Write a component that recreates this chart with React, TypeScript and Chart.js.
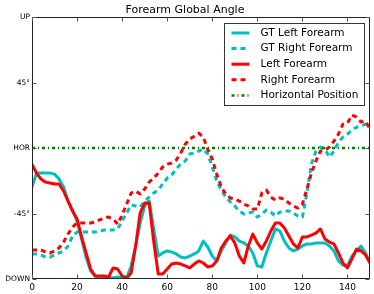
import React, { useEffect, useRef } from 'react';
import { Chart, registerables } from 'chart.js';

Chart.register(...registerables);

const chartTitle = 'Forearm Global Angle';
const seriesNames = ['GT Left Forearm', 'GT Right Forearm', 'Left Forearm', 'Right Forearm', 'Horizontal Position'];

const frames = [
  0, 2, 4, 6, 8, 10, 12, 14, 16, 18,
  20, 22, 24, 26, 28, 30, 32, 34, 36, 38,
  40, 42, 44, 46, 48, 50, 52, 54, 56, 58,
  60, 62, 64, 66, 68, 70, 72, 74, 76, 78,
  80, 82, 84, 86, 88, 90, 92, 94, 96, 98,
  100, 102, 104, 106, 108, 110, 112, 114, 116, 118,
  120, 122, 124, 126, 128, 130, 132, 134, 136, 138,
  140, 142, 144, 146, 148, 150,
];

const gtLeft = [
  -26.8, -17.2, -17.2, -17.2, -17.2, -17.9, -21.3, -26.8, -36.4, -42.6,
  -50.1, -62.5, -74.9, -84.5, -87.9, -88.6, -89.3, -88.6, -89.3, -88.6,
  -89.3, -89.3, -81.0, -67.3, -51.5, -39.8, -36.4, -55.6, -74.2, -72.1,
  -70.7, -71.4, -72.8, -74.9, -75.5, -74.2, -72.8, -70.7, -63.9, -68.0,
  -74.2, -77.6, -70.7, -65.2, -59.8, -61.1, -63.9, -65.2, -67.3, -72.1,
  -81.0, -81.7, -72.1, -63.9, -55.6, -57.0, -63.9, -68.7, -70.7, -69.4,
  -67.3, -65.9, -65.9, -65.2, -65.2, -65.2, -67.3, -70.7, -77.6, -80.4,
  -81.0, -74.2, -70.7, -67.3, -72.1, -79.0,
];

const gtRight = [
  -72.8, -72.8, -73.5, -74.9, -74.9, -73.5, -72.1, -70.7, -67.3, -60.4,
  -57.7, -57.7, -57.7, -57.7, -57.7, -57.0, -56.3, -56.3, -56.3, -55.6,
  -50.1, -44.6, -39.1, -39.8, -40.5, -36.4, -33.7, -30.9, -28.8, -24.7,
  -20.6, -18.5, -14.4, -11.0, -8.9, -4.1, -3.4, -2.1, -0.7, -4.1,
  -13.0, -22.7, -28.8, -33.7, -37.1, -39.8, -43.3, -45.3, -44.6, -44.0,
  -47.4, -45.3, -42.6, -44.0, -46.7, -44.0, -43.3, -43.3, -44.6, -46.7,
  -47.4, -30.9, -11.0, -2.1, 0.7, -0.7, -6.2, -2.1, 4.1, 7.6,
  9.6, 12.4, 14.4, 15.1, 16.5, 17.2,
];

const predLeft = [
  -11.0, -17.2, -21.3, -23.4, -24.0, -24.7, -24.7, -29.5, -36.4, -43.3,
  -48.8, -61.1, -72.1, -83.1, -87.9, -87.9, -87.9, -88.6, -82.4, -83.1,
  -87.9, -89.3, -85.9, -67.3, -44.6, -37.8, -37.8, -63.9, -86.5, -86.5,
  -83.1, -79.7, -79.0, -79.7, -81.0, -82.4, -79.7, -77.6, -79.0, -81.7,
  -81.0, -77.6, -68.7, -63.9, -60.4, -65.2, -74.2, -79.0, -67.3, -59.1,
  -65.2, -69.4, -63.9, -57.0, -51.5, -51.5, -54.9, -60.4, -65.9, -68.7,
  -61.1, -61.1, -59.8, -58.4, -55.6, -62.5, -64.6, -65.9, -72.1, -79.0,
  -82.4, -76.2, -69.4, -70.7, -73.5, -79.0,
];

const predRight = [
  -70.1, -70.1, -70.1, -71.4, -72.1, -70.7, -68.7, -64.6, -59.1, -54.3,
  -51.5, -51.5, -51.5, -51.5, -50.8, -49.4, -48.1, -47.4, -48.8, -52.2,
  -46.0, -38.5, -30.9, -29.5, -31.6, -28.2, -23.4, -20.6, -17.2, -13.0,
  -11.0, -10.3, -8.2, -3.4, 2.7, 6.2, 8.2, 10.3, 7.6, -0.7,
  -7.6, -17.9, -26.8, -31.6, -34.3, -35.0, -36.4, -38.5, -39.8, -41.9,
  -41.9, -30.9, -28.8, -33.7, -35.7, -34.3, -35.0, -37.8, -39.8, -41.2,
  -38.5, -28.2, -17.2, -8.9, -2.1, -1.4, 0.7, 4.8, 9.6, 16.5,
  17.2, 22.7, 21.3, 17.9, 18.5, 13.0,
];

const horizontalX = [0, 150];
const horizontalY = [0, 0];

const yTickValues = [-90, -45, 0, 45, 90];
const yTickLabels = ['DOWN', '-45°', 'HOR', '45°', 'UP'];
const xTickStep = 20;
const xMin = 0;
const xMax = 150;

const FONT = '"DejaVu Sans", sans-serif';

const toPoints = (xs: number[], ys: number[]) => xs.map((x, i) => ({ x, y: ys[i] }));

const framePlugin = {
  id: 'frameAndTicks',
  afterDatasetsDraw(chart: any) {
    const { ctx, chartArea } = chart;
    const { left, right, top, bottom } = chartArea;
    ctx.save();
    ctx.strokeStyle = '#222';
    ctx.lineWidth = 1;
    ctx.setLineDash([]);
    const L = Math.round(left) + 0.5;
    const R = Math.round(right) - 0.5;
    const T = Math.round(top) + 0.5;
    const B = Math.round(bottom) - 0.5;
    ctx.beginPath();
    ctx.rect(L, T, R - L, B - T);
    ctx.stroke();
    ctx.strokeStyle = '#555';
    const xs = chart.scales.x;
    xs.ticks.forEach((t: any) => {
      const px = Math.round(xs.getPixelForValue(t.value)) + 0.5;
      ctx.beginPath();
      ctx.moveTo(px, B);
      ctx.lineTo(px, B - 4);
      ctx.moveTo(px, T);
      ctx.lineTo(px, T + 4);
      ctx.stroke();
    });
    const ys = chart.scales.y;
    ys.ticks.forEach((t: any) => {
      const py = Math.round(ys.getPixelForValue(t.value)) + 0.5;
      ctx.beginPath();
      ctx.moveTo(L, py);
      ctx.lineTo(L + 4, py);
      ctx.moveTo(R, py);
      ctx.lineTo(R - 4, py);
      ctx.stroke();
    });
    ctx.restore();
  },
  afterDraw(chart: any) {
    const { ctx, chartArea } = chart;
    const boxW = 140;
    const boxH = 82;
    const bx = Math.round(chartArea.right - 6 - boxW) + 0.5;
    const by = Math.round(chartArea.top + 6) + 0.5;
    ctx.save();
    ctx.fillStyle = '#ffffff';
    ctx.fillRect(bx, by, boxW, boxH);
    ctx.strokeStyle = '#333';
    ctx.lineWidth = 1;
    ctx.setLineDash([]);
    ctx.strokeRect(bx, by, boxW, boxH);
    const rowH = 15.6;
    chart.data.datasets.forEach((ds: any, i: number) => {
      const cy = by + 9.5 + i * rowH;
      ctx.beginPath();
      ctx.strokeStyle = ds.borderColor;
      ctx.lineWidth = ds.borderWidth;
      ctx.setLineDash(ds.borderDash || []);
      ctx.lineCap = 'butt';
      ctx.moveTo(bx + 7, cy);
      ctx.lineTo(bx + 25, cy);
      ctx.stroke();
      ctx.setLineDash([]);
      ctx.fillStyle = '#000';
      ctx.font = `10.5px ${FONT}`;
      ctx.textBaseline = 'middle';
      ctx.textAlign = 'left';
      ctx.fillText(ds.label, bx + 36, cy);
    });
    ctx.restore();
  },
};

export default function App() {
  const canvasRef = useRef<HTMLCanvasElement | null>(null);

  useEffect(() => {
    document.body.style.margin = '0';
    const canvas = canvasRef.current;
    if (!canvas) return;
    const cyan = 'rgb(0, 191, 191)';
    const red = 'rgb(255, 0, 0)';
    const green = 'rgb(0, 128, 0)';
    const chart = new Chart(canvas, {
      type: 'line',
      data: {
        datasets: [
          { label: seriesNames[0], data: toPoints(frames, gtLeft), borderColor: cyan, borderWidth: 3, borderDash: [], order: 4 },
          { label: seriesNames[1], data: toPoints(frames, gtRight), borderColor: cyan, borderWidth: 3, borderDash: [5, 4], order: 3 },
          { label: seriesNames[2], data: toPoints(frames, predLeft), borderColor: red, borderWidth: 3, borderDash: [], order: 2 },
          { label: seriesNames[3], data: toPoints(frames, predRight), borderColor: red, borderWidth: 3, borderDash: [5, 4], order: 1 },
          { label: seriesNames[4], data: toPoints(horizontalX, horizontalY), borderColor: green, borderWidth: 2.5, borderDash: [3, 3, 1, 3], order: 0 },
        ] as any,
      },
      options: {
        animation: false,
        responsive: false,
        maintainAspectRatio: false,
        parsing: true,
        elements: {
          point: { radius: 0, hoverRadius: 0 },
          line: { tension: 0, fill: false, borderJoinStyle: 'round' as any },
        },
        layout: { padding: { left: 0, right: 4, top: 0, bottom: 0 } },
        plugins: {
          legend: { display: false },
          tooltip: { enabled: false },
          title: {
            display: true,
            text: chartTitle,
            color: '#000',
            font: { family: FONT, size: 11, weight: 'normal' as any },
            padding: { top: 4, bottom: 0 },
          },
        },
        scales: {
          x: {
            type: 'linear',
            min: xMin,
            max: xMax,
            grid: { display: false, drawTicks: false },
            border: { display: false },
            ticks: {
              stepSize: xTickStep,
              includeBounds: false,
              color: '#000',
              padding: 3,
              maxRotation: 0,
              font: { family: FONT, size: 9 },
            },
            afterFit: (scale: any) => { scale.height = 15; },
          },
          y: {
            type: 'linear',
            min: -90,
            max: 90,
            grid: { display: false, drawTicks: false },
            border: { display: false },
            afterBuildTicks: (scale: any) => {
              scale.ticks = yTickValues.map((v) => ({ value: v }));
            },
            ticks: {
              color: '#000',
              padding: 2,
              font: { family: FONT, size: 7.5 },
              callback: (v: any) => {
                const i = yTickValues.indexOf(Number(v));
                return i >= 0 ? yTickLabels[i] : '';
              },
            },
            afterFit: (scale: any) => { scale.width = 32; },
          },
        },
      },
      plugins: [framePlugin],
    });
    return () => chart.destroy();
  }, []);

  return (
    <div style={{ width: 374, height: 294, background: '#fff' }}>
      <canvas ref={canvasRef} width={374} height={294} style={{ display: 'block', width: 374, height: 294 }} />
    </div>
  );
}
